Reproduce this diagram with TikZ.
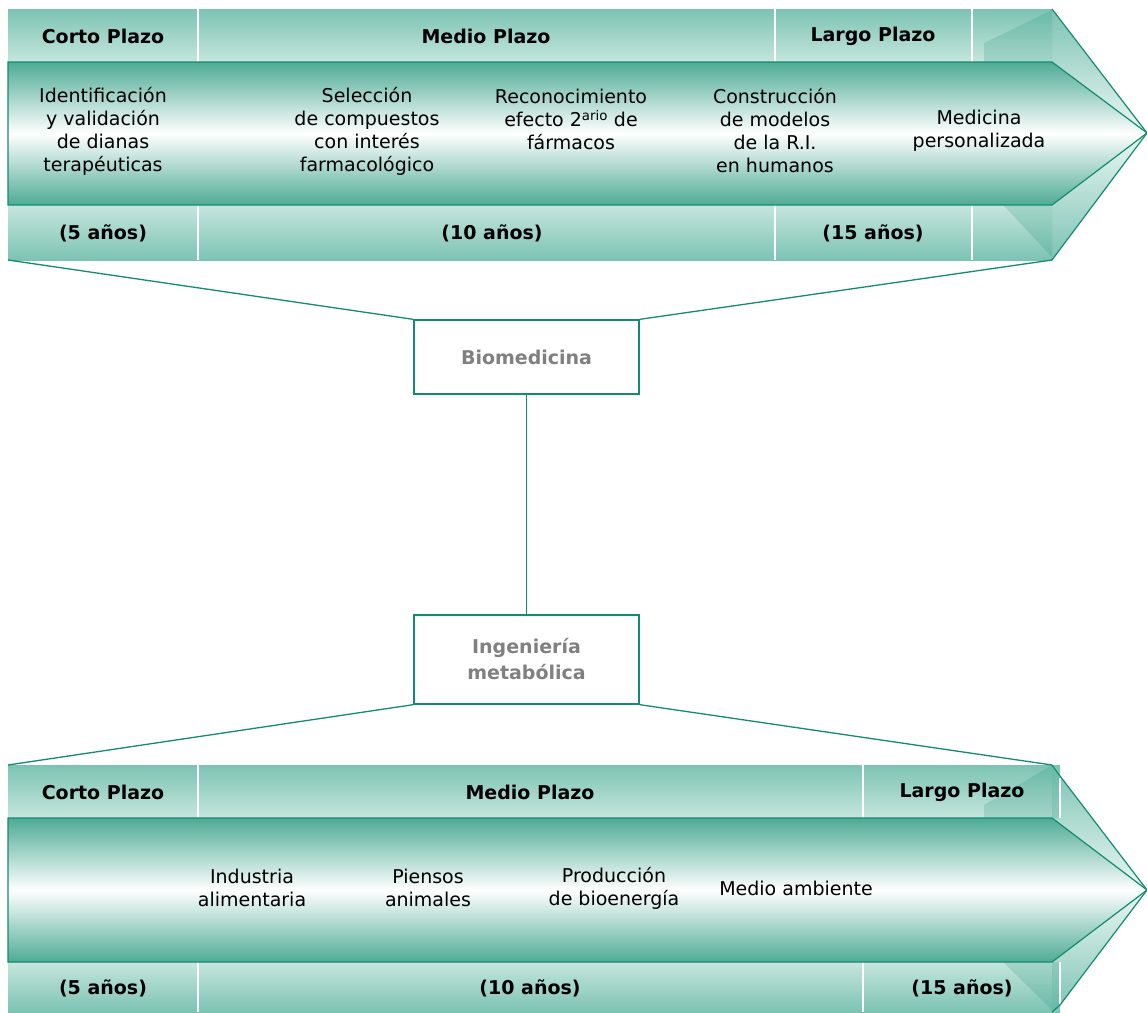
\documentclass[tikz,border=0pt]{standalone}
\usepackage{fontspec}
\setmainfont{DejaVu Sans}
\definecolor{tealline}{RGB}{18,140,112}
\definecolor{tdark}{RGB}{78,171,149}
\definecolor{tmid}{RGB}{124,195,179}
\definecolor{tlight}{RGB}{198,230,221}
\definecolor{tpale}{RGB}{236,247,244}
\definecolor{boxtext}{RGB}{128,128,128}
\begin{document}
\begin{tikzpicture}[x=1pt,y=-1pt,
  every node/.style={font=\fontsize{19}{23}\selectfont, align=center, inner sep=0pt},
  hdr/.style={font=\fontsize{19}{23}\selectfont\bfseries},
  body/.style={font=\fontsize{19}{23}\selectfont},
  cat/.style={draw=tealline, line width=1.3pt, fill=white, minimum width=225pt,
    font=\fontsize{19}{26}\selectfont\bfseries, text=boxtext},
  conn/.style={draw=tealline, line width=1.3pt},
  edge/.style={draw=tealline, line width=1.2pt, line join=miter},
  sep/.style={draw=white, line width=1.5pt},
  facet/.style={fill=tealline, opacity=0.18},
  arrowshade/.style={top color=tdark, bottom color=tdark, middle color=white}]
\useasboundingbox (0,0) rectangle (1147,1012);

% ---------------- top band ----------------
\shade[top color=tmid, bottom color=tlight] (8,9) rectangle (1052,62);
\shade[top color=tlight, bottom color=tmid] (8,205) rectangle (1052,260);
\shade[top color=tmid, bottom color=tpale] (1052,9) -- (1147,133) -- (1052,62) -- cycle;
\shade[top color=tpale, bottom color=tmid] (1052,205) -- (1147,133) -- (1052,260) -- cycle;
\fill[facet] (984,62) -- (984,43) -- (1052,10) -- (1052,62) -- cycle;
\fill[facet] (1003,205) -- (1052,257) -- (1052,205) -- cycle;
\foreach \x in {198,775,972} {
  \draw[sep] (\x,9) -- (\x,62);
  \draw[sep] (\x,205) -- (\x,260);
}
\shade[arrowshade]
  (8,62) -- (1052,62) -- (1147,133) -- (1052,205) -- (8,205) -- cycle;
\draw[edge] (8,62) -- (1052,62) -- (1147,133) -- (1052,205) -- (8,205) -- cycle;
\draw[edge] (1052,9) -- (1147,133) -- (1052,260);

\node[hdr] (tcp) at (103,36) {Corto Plazo};
\node[hdr] (tmp) at (486,36) {Medio Plazo};
\node[hdr] (tlp) at (873,36) {Largo Plazo};
\node[hdr] (ta5) at (103,233) {(5 años)};
\node[hdr] (ta10) at (492,233) {(10 años)};
\node[hdr] (ta15) at (873,233) {(15 años)};

\node[body] (tb1) at (103,131) {Identificación\\y validación\\de dianas\\terapéuticas};
\node[body] (tb2) at (367,131) {Selección\\de compuestos\\con interés\\farmacológico};
\node[body] (tb3) at (571,119.5) {Reconocimiento\\efecto 2\textsuperscript{ario} de\\fármacos};
\node[body] (tb4) at (775,131) {Construcción\\de modelos\\de la R.I.\\en humanos};
\node[body] (tb5) at (979,130.5) {Medicina\\personalizada};

% ---------------- bottom band ----------------
\shade[top color=tmid, bottom color=tlight] (8,765) rectangle (1060,818);
\shade[top color=tlight, bottom color=tmid] (8,962) rectangle (1060,1012);
\shade[top color=tmid, bottom color=tpale] (1052,765) -- (1060,776) -- (1147,890) -- (1052,818) -- cycle;
\shade[top color=tpale, bottom color=tmid] (1052,962) -- (1147,890) -- (1060,1005) -- (1052,1012) -- cycle;
\fill[facet] (984,818) -- (984,805) -- (1052,765) -- (1052,818) -- cycle;
\fill[facet] (1003,962) -- (1052,1010) -- (1052,962) -- cycle;
\fill[facet] (1052,765) -- (1060,776) -- (1060,818) -- (1052,818) -- cycle;
\fill[facet] (1052,962) -- (1060,962) -- (1060,1005) -- (1052,1012) -- cycle;
\foreach \x in {198,863} {
  \draw[sep] (\x,765) -- (\x,818);
  \draw[sep] (\x,962) -- (\x,1012);
}
\draw[sep] (1060,778) -- (1060,818);
\draw[sep] (1060,962) -- (1060,1004);
\shade[arrowshade]
  (8,818) -- (1052,818) -- (1147,890) -- (1052,962) -- (8,962) -- cycle;
\draw[edge] (8,818) -- (1052,818) -- (1147,890) -- (1052,962) -- (8,962) -- cycle;
\draw[edge] (1052,765) -- (1060,776) -- (1147,890) -- (1060,1005) -- (1052,1012);

\node[hdr] (bcp) at (103,792) {Corto Plazo};
\node[hdr] (bmp) at (530,792) {Medio Plazo};
\node[hdr] (blp) at (962,792) {Largo Plazo};
\node[hdr] (ba5) at (103,988) {(5 años)};
\node[hdr] (ba10) at (530,988) {(10 años)};
\node[hdr] (ba15) at (962,988) {(15 años)};

\node[body] (bb1) at (252,888) {Industria\\alimentaria};
\node[body] (bb2) at (428,888) {Piensos\\animales};
\node[body] (bb3) at (614,888) {Producción\\de bioenergía};
\node[body] (bb4) at (796,888) {Medio ambiente};

% ---------------- category boxes ----------------
\coordinate (tbl) at (8,260);
\coordinate (tbr) at (1052,260);
\coordinate (lbl) at (8,765);
\coordinate (lbr) at (1052,765);
\node[cat, minimum height=74pt] (bio) at (526.5,357) {Biomedicina};
\node[cat, minimum height=89pt] (ing) at (526.5,659.5) {Ingeniería\\metabólica};
\draw[conn] (tbl) -- (bio.north west);
\draw[conn] (tbr) -- (bio.north east);
\draw[conn] (bio) -- (ing);
\draw[conn] (ing.south west) -- (lbl);
\draw[conn] (ing.south east) -- (lbr);
\end{tikzpicture}
\end{document}
